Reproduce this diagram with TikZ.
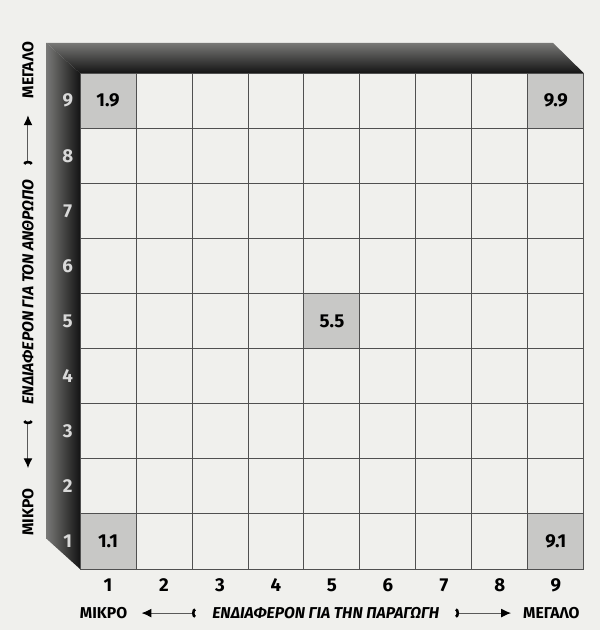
\documentclass[tikz,border=0pt]{standalone}
\usepackage{fontspec}
\setmainfont{Fira Sans}
\usetikzlibrary{arrows.meta,positioning}
\definecolor{paper}{RGB}{240,240,237}
\definecolor{cellgray}{RGB}{200,200,198}
\definecolor{gridline}{RGB}{80,80,80}
\definecolor{frameouter}{RGB}{120,120,118}
\definecolor{frameinner}{RGB}{20,20,20}

\begin{document}
\begin{tikzpicture}[x=1cm,y=0.984cm,
		font=\fontsize{8}{9}\selectfont\bfseries,
		num/.style={font=\fontsize{9.5}{10}\selectfont\bfseries},
		axislabel/.style={inner sep=0pt},
		axismid/.style={inner sep=0pt, font=\fontsize{8}{9}\selectfont\bfseries\itshape},
		axisarrow/.style={draw=black!65, line width=0.5pt,
			{Arc Barb[reversed,length=1.6pt,width=5pt,line width=1.3pt,black]}-{Latex[length=5pt,width=4.5pt,black]}}]
	% page and 3d frame
	\fill[paper] (-1.43,-1.107) rectangle (9.29,10.33);
	\shade[top color=frameouter, bottom color=frameinner] (-0.6,9.55) -- (8.45,9.55) -- (9,9) -- (0,9) -- cycle;
	\shade[left color=frameouter, right color=frameinner] (-0.6,9.55) -- (0,9) -- (0,0) -- (-0.6,0.55) -- cycle;
	% grid
	\foreach \c/\r in {1/9,9/9,5/5,1/1,9/1}
		\fill[cellgray] (\c-1,\r-1) rectangle (\c,\r);
	\foreach \i in {0,...,9} {
		\draw[gridline, line width=0.5pt] (\i,0) -- (\i,9);
		\draw[gridline, line width=0.5pt] (0,\i) -- (9,\i);
	}
	\foreach \c/\r in {1/9,9/9,5/5,1/1,9/1}
		\node[num] (v\c\r) at (\c-0.5,\r-0.5) {\c.\r};
	\foreach \r in {1,...,9}
		\node[num, text=white!85!black] (row\r) at (-0.22,\r-0.5) {\r};
	\foreach \c in {1,...,9}
		\node[num] (col\c) at (\c-0.5,-0.29) {\c};
	% axis labels
	\node[axislabel] (xsmall) at (0.42,-0.80) {ΜΙΚΡΟ};
	\node[axismid] (xmid) at (4.39,-0.80) {ΕΝΔΙΑΦΕΡΟΝ ΓΙΑ ΤΗΝ ΠΑΡΑΓΩΓΗ};
	\node[axislabel] (xbig) at (8.42,-0.80) {ΜΕΓΑΛΟ};
	\draw[axisarrow, shorten <=0.3cm, shorten >=0.25cm] (xmid) -- (xsmall);
	\draw[axisarrow, shorten <=0.29cm, shorten >=0.21cm] (xmid) -- (xbig);
	\node[axislabel, rotate=90] (ysmall) at (-0.93,1.03) {ΜΙΚΡΟ};
	\node[axismid, rotate=90] (ymid) at (-0.93,5.03) {ΕΝΔΙΑΦΕΡΟΝ ΓΙΑ ΤΟΝ ΑΝΘΡΩΠΟ};
	\node[axislabel, rotate=90] (ybig) at (-0.93,9.06) {ΜΕΓΑΛΟ};
	\draw[axisarrow, shorten <=0.29cm, shorten >=0.36cm] (ymid) -- (ysmall);
	\draw[axisarrow, shorten <=0.27cm, shorten >=0.3cm] (ymid) -- (ybig);
\end{tikzpicture}
\end{document}
